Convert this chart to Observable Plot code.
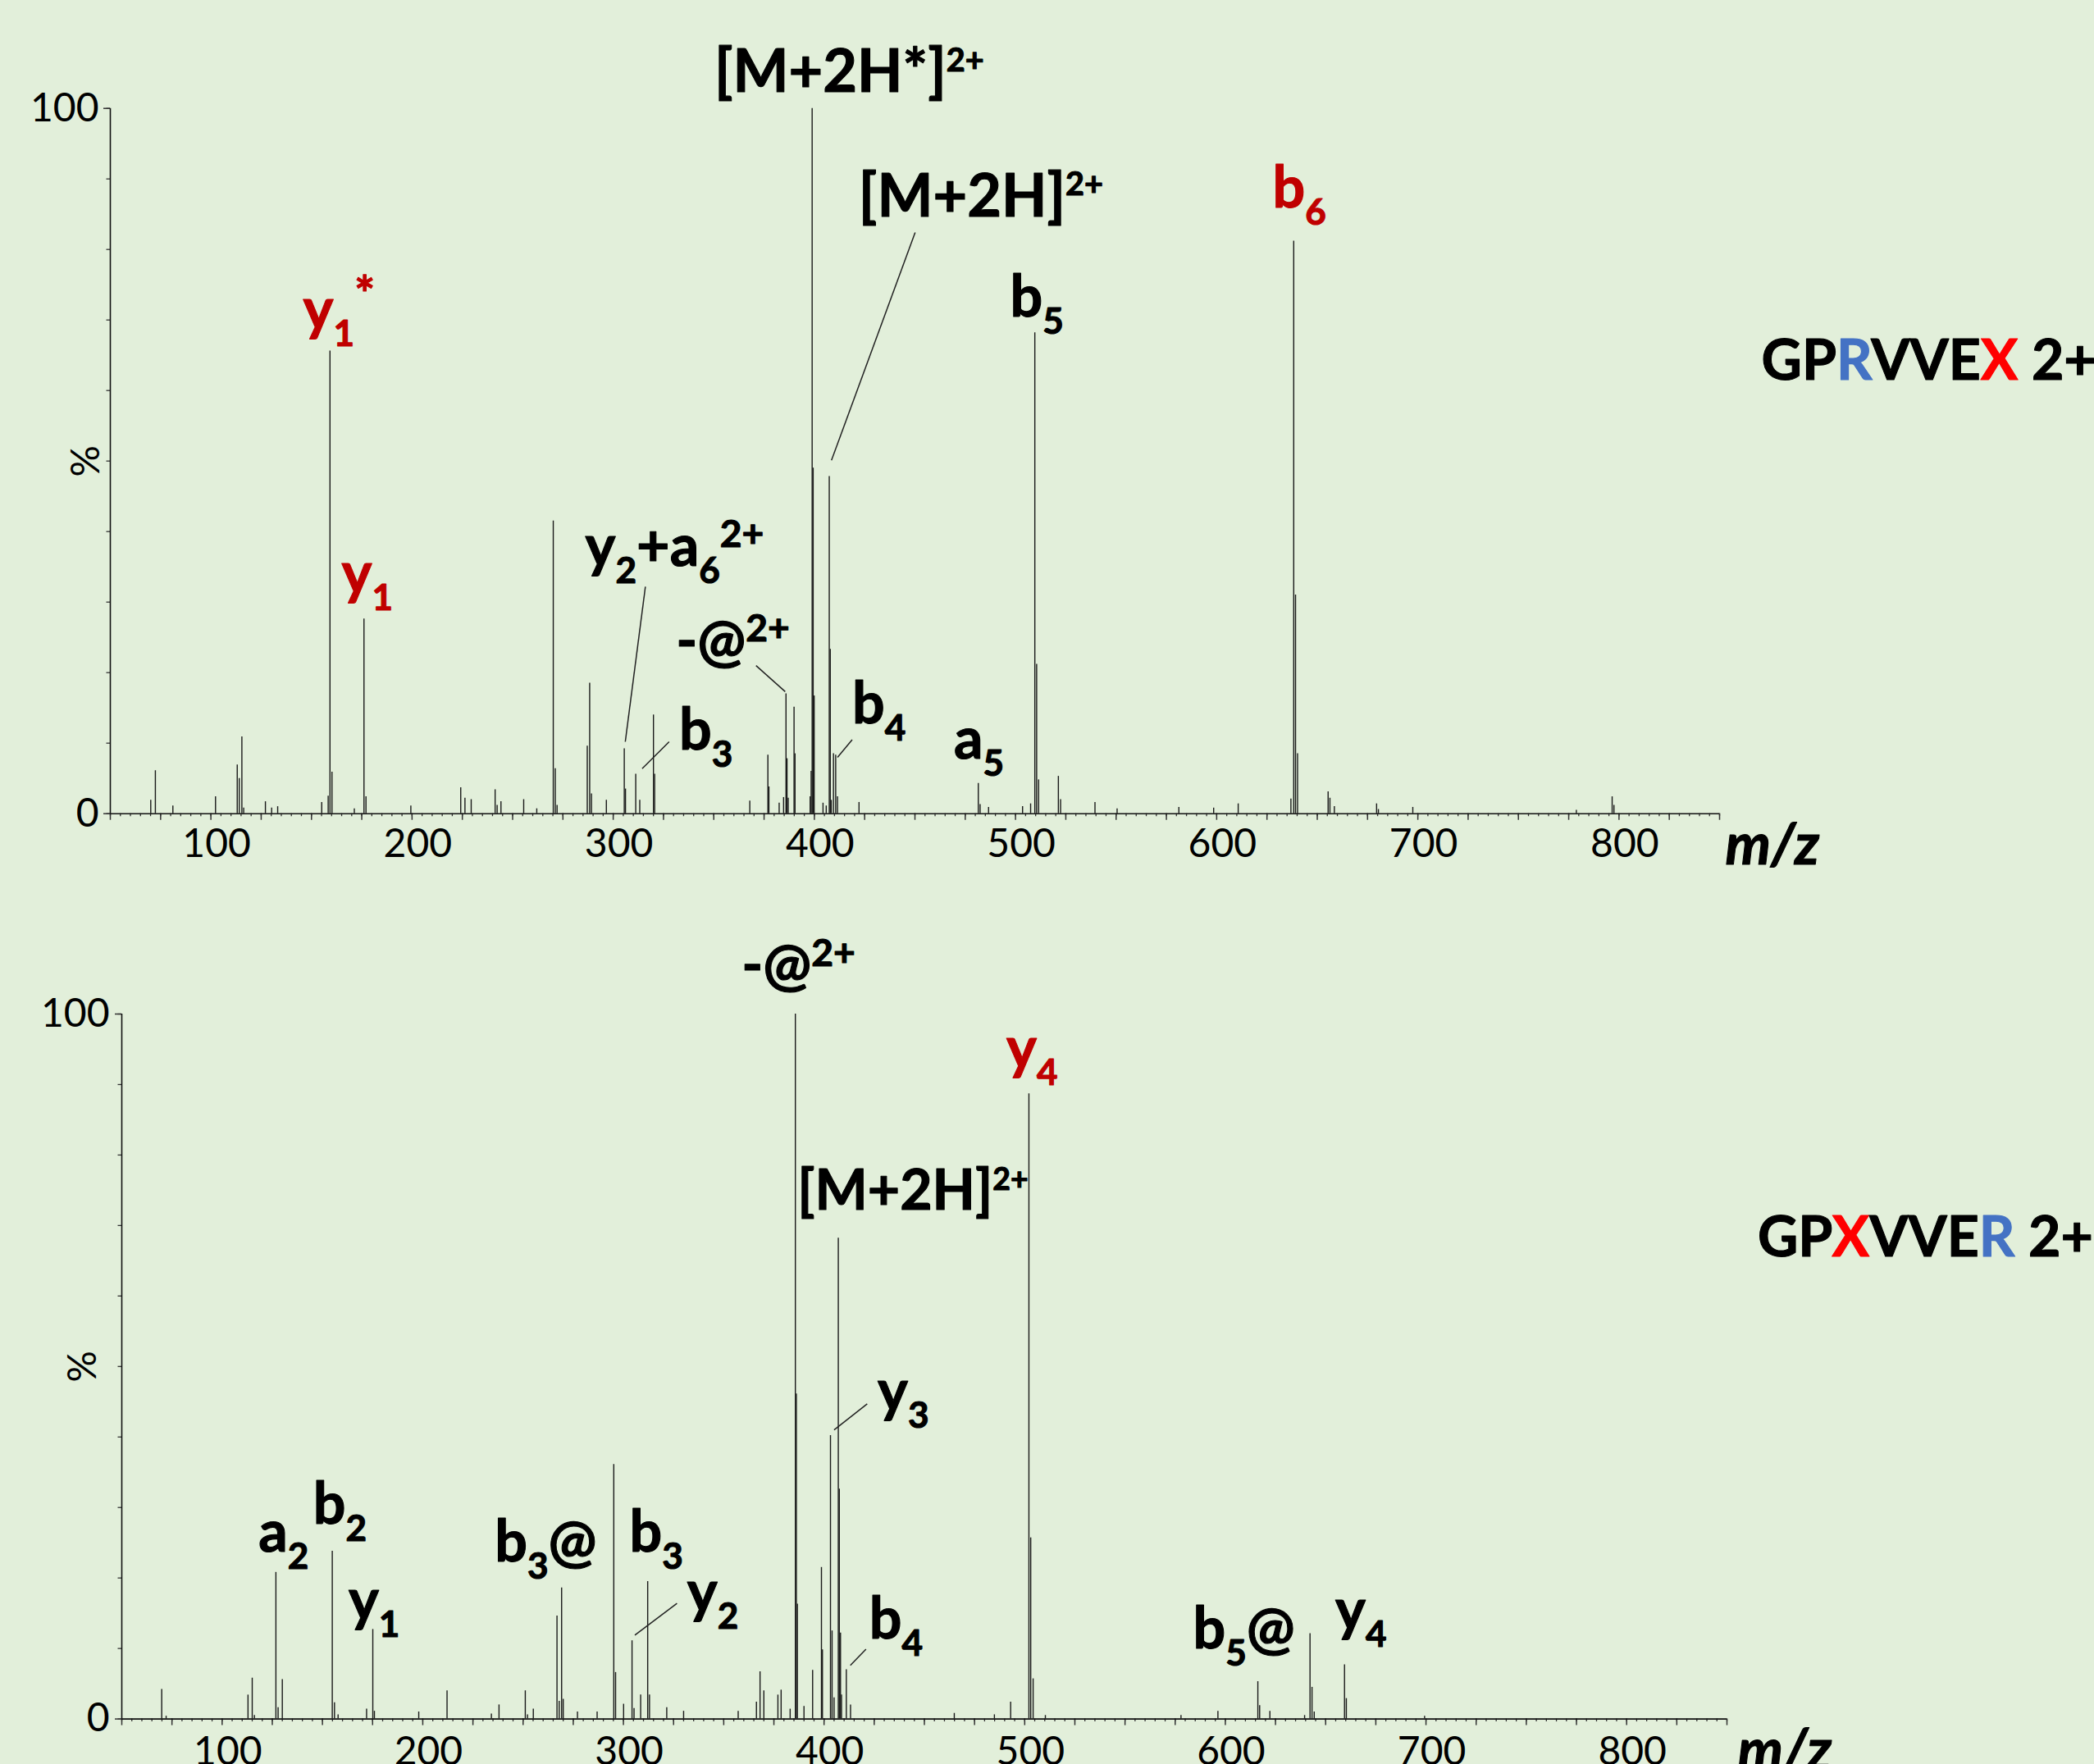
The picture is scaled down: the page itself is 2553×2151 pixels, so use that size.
<!DOCTYPE html>
<html>
<head>
<meta charset="utf-8">
<script src="https://cdn.jsdelivr.net/npm/d3@7"></script>
<script src="https://cdn.jsdelivr.net/npm/@observablehq/plot@0.6"></script>
<style>
  html, body { margin: 0; padding: 0; background: #E2EFDA; overflow: hidden; }
  #chart svg { display: block; }
</style>
</head>
<body>
<div id="chart"></div>
<script>
// ---------- DATA ----------
// Top spectrum: GPRVVEX 2+
const topMz = [70.1,72.4,81.1,102.3,113.1,114.1,115.4,116.3,127.1,130.2,133.2,155.1,158.3,159.2,160.2,171.3,176.1,177.1,199.4,
  224.2,226.3,229.4,241.3,242.3,244.2,255.5,262.0,270.2,271.2,272.1,287.1,288.3,289.2,296.6,305.5,306.1,311.2,313.2,320.0,320.6,
  367.9,376.9,377.4,382.5,384.7,385.9,386.4,387.0,389.9,390.4,397.9,398.4,398.9,399.4,399.9,404.3,405.9,407.4,407.9,408.4,409.5,410.6,411.5,422.2,
  481.5,482.4,486.6,503.5,507.5,509.6,510.5,511.5,521.3,522.4,539.5,550.5,581.2,598.5,610.7,636.9,638.3,639.2,640.2,
  655.4,656.3,658.5,679.5,680.4,697.5,778.8,796.6,797.5];
const topPct = [1.9,6.1,1.1,2.4,6.9,5.0,10.9,0.8,1.7,0.8,1.0,1.6,2.5,65.6,5.9,0.7,27.6,2.4,1.1,
  3.7,2.2,2.0,3.4,1.2,1.7,2.0,0.7,41.5,6.4,1.2,9.6,18.5,2.8,1.9,9.2,3.5,5.6,1.9,14.0,5.6,
  1.8,8.3,3.8,1.5,2.3,17.0,7.8,2.2,15.1,8.5,2.4,6.0,100,49.0,16.7,1.5,1.1,47.8,23.3,1.9,8.5,8.3,2.4,1.6,
  4.3,1.3,0.9,1.0,1.4,68.2,21.2,4.8,5.3,2.0,1.6,0.7,0.9,0.8,1.4,2.1,81.2,31.0,8.5,
  3.1,2.2,1.0,1.4,0.6,0.9,0.5,2.4,1.2];

// Bottom spectrum: GPXVVER 2+
const botMz = [69.9,72.1,112.9,115.0,116.1,126.8,127.9,130.0,154.9,156.0,157.8,172.0,175.1,175.9,198.0,212.1,234.2,238.0,
  251.1,252.2,255.1,266.9,268.0,269.2,270.0,277.1,286.9,295.2,296.1,300.1,304.3,305.3,308.6,312.1,313.0,321.6,330.0,357.2,
  366.3,368.1,370.0,377.0,378.6,383.1,385.7,386.2,386.7,390.0,394.3,398.7,399.2,403.2,404.0,405.0,407.1,407.6,408.2,408.7,411.1,413.2,
  464.9,484.9,493.0,502.1,503.0,504.2,510.3,577.9,596.3,616.2,617.1,622.2,639.5,642.2,643.2,644.3,659.4,660.3,699.3];
const botPct = [4.2,0.4,3.4,5.8,0.5,20.8,1.6,5.6,23.8,2.3,0.6,1.4,12.7,1.1,1.0,4.0,0.7,2.0,
  4.0,0.6,1.4,14.6,2.5,18.6,2.8,1.0,1.0,36.1,6.6,2.1,11.1,1.5,3.4,19.5,3.4,1.6,1.1,1.1,
  2.4,6.7,4.0,3.4,4.1,1.4,100,46.1,16.3,1.8,6.9,21.5,9.8,40.2,12.5,3.0,68.2,32.6,12.2,3.4,7.0,2.0,
  0.8,0.6,2.4,88.7,25.7,5.7,0.5,0.5,1.1,5.3,1.9,1.1,0.5,12.1,4.5,1.0,7.7,2.9,0.4];

// Axis tick values
const xLabelTicks = [100, 200, 300, 400, 500, 600, 700, 800];
const xMajorTicks = d3.range(50, 851, 25);
const xMinorTicks = d3.range(50, 851, 5);
const yLabelTicks = [0, 100];
const yMinorTicks = d3.range(0, 101, 10);

// Peak annotations (anchor = left edge / baseline, in m/z and %)
const topLabels = [
  {mz: 350.3, pct: 102.3, text: "[M+2H*]^{2+}", red: false},
  {mz: 422.0, pct: 84.7,  text: "[M+2H]^{2+}",  red: false},
  {mz: 145.8, pct: 68.8,  text: "y_{1}^{*}",    red: true},
  {mz: 165.0, pct: 31.3,  text: "y_{1}",        red: true},
  {mz: 497.3, pct: 70.5,  text: "b_{5}",        red: false},
  {mz: 627.8, pct: 86.0,  text: "b_{6}",        red: true},
  {mz: 286.1, pct: 35.1,  text: "y_{2}+a_{6}^{2+}", red: false},
  {mz: 331.2, pct: 21.7,  text: "-@^{2+}",      red: false},
  {mz: 332.8, pct: 9.1,   text: "b_{3}",        red: false},
  {mz: 418.8, pct: 12.8,  text: "b_{4}",        red: false},
  {mz: 469.4, pct: 7.8,   text: "a_{5}",        red: false}
];
const botLabels = [
  {mz: 358.9, pct: 104.1, text: "-@^{2+}",      red: false},
  {mz: 490.9, pct: 92.4,  text: "y_{4}",        red: true},
  {mz: 386.7, pct: 72.2,  text: "[M+2H]^{2+}",  red: false},
  {mz: 426.7, pct: 43.7,  text: "y_{3}",        red: false},
  {mz: 118.2, pct: 23.8,  text: "a_{2}",        red: false},
  {mz: 145.4, pct: 27.7,  text: "b_{2}",        red: false},
  {mz: 163.0, pct: 14.1,  text: "y_{1}",        red: false},
  {mz: 235.9, pct: 22.3,  text: "b_{3}@",       red: false},
  {mz: 303.0, pct: 23.8,  text: "b_{3}",        red: false},
  {mz: 331.8, pct: 15.2,  text: "y_{2}",        red: false},
  {mz: 422.5, pct: 11.4,  text: "b_{4}",        red: false},
  {mz: 583.9, pct: 10.0,  text: "b_{5}@",       red: false},
  {mz: 654.8, pct: 12.7,  text: "y_{4}",        red: false}
];
// Leader lines (m/z, %)
const topLeaders = [
  {x1: 450.1, y1: 82.4, x2: 408.5, y2: 50.1},
  {x1: 316.0, y1: 32.2, x2: 306.0, y2: 10.2},
  {x1: 371.0, y1: 21.0, x2: 385.5, y2: 17.3},
  {x1: 327.8, y1: 10.2, x2: 314.4, y2: 6.4},
  {x1: 418.8, y1: 10.5, x2: 411.5, y2: 8.0}
];
const botLeaders = [
  {x1: 421.5, y1: 44.7, x2: 405.0, y2: 41.0},
  {x1: 326.7, y1: 16.4, x2: 305.7, y2: 11.9},
  {x1: 420.9, y1: 9.9,  x2: 413.1, y2: 7.6}
];
// Peptide labels: {b:..} blue residue, {r:..} red residue
const topPeptide = [{mz: 870.8, pct: 61.5, text: "GP{b:R}VVE{r:X} 2+"}];
const botPeptide = [{mz: 865.3, pct: 65.6, text: "GP{r:X}VVE{b:R} 2+"}];

// ---------- RENDER ----------
const FONT = "Lato, 'Open Sans', sans-serif";
const BG = "#E2EFDA";
const DARKRED = "#C00000";
const INK = "#111";

function panel(opts) {
  const peaks = opts.mz.map((m, i) => ({mz: m, pct: opts.pct[i]}));
  const sizeOf = d => (d.text.startsWith("[") ? opts.precSize : 70);
  const labelStyle = (fill) => ({x: "mz", y: "pct", text: "text", textAnchor: "start", lineAnchor: "bottom",
    fontSize: sizeOf, fontWeight: "bold", fontFamily: FONT, fill, stroke: fill, strokeWidth: 1.1});
  return Plot.plot({
    width: 2553,
    height: opts.height,
    marginLeft: opts.left,
    marginRight: 2553 - opts.right,
    marginTop: opts.top,
    marginBottom: opts.height - opts.bottom,
    style: {background: BG, fontFamily: FONT, overflow: "hidden"},
    x: {domain: [50, 850], axis: null},
    y: {domain: [0, 100], axis: null},
    marks: [
      Plot.axisX(xMinorTicks, {tickSize: 3.5, tickFormat: () => "", stroke: "#333", strokeWidth: 1.3, label: null}),
      Plot.axisX(xMajorTicks, {tickSize: 8, tickFormat: () => "", stroke: "#333", strokeWidth: 1.5, label: null}),
      Plot.axisY(yMinorTicks, {tickSize: 4.5, tickFormat: () => "", stroke: "#333", strokeWidth: 1.3, label: null}),
      Plot.axisY(yLabelTicks, {tickSize: 8, tickPadding: opts.yPad, fontSize: 48, fontFamily: FONT, fill: "#000", stroke: "#333", strokeWidth: 1.5, label: null}),
      Plot.text(xLabelTicks, {x: d => d, frameAnchor: "bottom", dy: opts.xLabDy, dx: 7, lineAnchor: "bottom",
        text: d => String(d), fontSize: 48, fontFamily: FONT, fill: "#000"}),
      Plot.ruleY([0], {stroke: INK, strokeWidth: 1.6}),
      Plot.ruleX([50], {y1: 0, y2: 100, stroke: INK, strokeWidth: 1.6}),
      Plot.text([50], {x: () => 50, y: () => 50, text: () => "%", rotate: -90, dx: opts.pctDx, fontSize: 48, fontFamily: FONT, fill: "#000"}),
      Plot.text(["m/z"], {x: () => 850, frameAnchor: "bottom", dx: opts.mzDx, dy: opts.mzDy, text: d => d, textAnchor: "start", lineAnchor: "bottom",
        fontSize: 70, fontWeight: "bold", fontStyle: "italic", fontFamily: FONT, fill: "#000", stroke: "#000", strokeWidth: 1.1}),
      Plot.ruleX(peaks, {x: "mz", y1: 0, y2: "pct", stroke: "#1a1a1a", strokeWidth: 1.4}),
      Plot.link(opts.leaders, {x1: "x1", y1: "y1", x2: "x2", y2: "y2", stroke: "#222", strokeWidth: 1.5}),
      Plot.text(opts.labels.filter(d => !d.red), labelStyle("#000")),
      Plot.text(opts.labels.filter(d => d.red), labelStyle(DARKRED)),
      Plot.text(opts.peptide, {x: "mz", y: "pct", text: "text", textAnchor: "start", lineAnchor: "bottom",
        fontSize: 68, fontWeight: "bold", fontFamily: FONT, fill: "#000", stroke: "#000", strokeWidth: 1.1})
    ]
  });
}

const SVGNS = "http://www.w3.org/2000/svg";
function richify(svg) {
  svg.querySelectorAll("text").forEach(t => {
    const src = t.textContent;
    if (/\{[br]:/.test(src)) {
      // peptide label with coloured residues
      while (t.firstChild) t.removeChild(t.firstChild);
      for (const m of src.matchAll(/\{([br]):([^}]*)\}|([^{]+)/g)) {
        const ts = document.createElementNS(SVGNS, "tspan");
        if (m[1]) {
          const c = m[1] === "b" ? "#4472C4" : "#FF0000";
          ts.textContent = m[2]; ts.setAttribute("fill", c); ts.setAttribute("stroke", c);
        } else ts.textContent = m[3];
        t.appendChild(ts);
      }
      return;
    }
    if (!/[_^]\{/.test(src)) return;
    let sizeAttr = t.getAttribute("font-size");
    if (!sizeAttr && t.parentNode) sizeAttr = t.parentNode.getAttribute("font-size");
    const size = parseFloat(sizeAttr || 70);
    const prec = src.startsWith("[");
    const subSize = 0.63 * size, subShift = 0.30 * size;
    while (t.firstChild) t.removeChild(t.firstChild);
    let off = 0;
    for (const m of src.matchAll(/([_^])\{([^}]*)\}|([^_^]+)/g)) {
      const ts = document.createElementNS(SVGNS, "tspan");
      let target = 0, fs = null, txt;
      if (m[1]) {
        txt = m[2];
        if (m[1] === "_") { target = subShift; fs = subSize; }
        else if (txt === "*") { target = -0.30 * size; fs = 0.85 * size; }
        else { target = -(prec ? 0.36 : 0.33) * size; fs = (prec ? 0.55 : 0.66) * size; }
      } else txt = m[3];
      const dy = target - off; off = target;
      if (dy) ts.setAttribute("dy", dy);
      if (fs) ts.setAttribute("font-size", fs);
      ts.textContent = txt;
      t.appendChild(ts);
    }
  });
  return svg;
}

const topChart = panel({
  mz: topMz, pct: topPct, labels: topLabels, leaders: topLeaders, peptide: topPeptide,
  height: 1075, left: 134, right: 2096, top: 131.7, bottom: 991.7,
  yPad: 6, xLabDy: 53, pctDx: -29, mzDx: 7, mzDy: 62, precSize: 72
});
const bottomChart = panel({
  mz: botMz, pct: botPct, labels: botLabels, leaders: botLeaders, peptide: botPeptide,
  height: 1076, left: 148, right: 2105, top: 1236 - 1075, bottom: 2095.6 - 1075,
  yPad: 7, xLabDy: 56, pctDx: -46.5, mzDx: 13, mzDy: 62, precSize: 68
});
document.getElementById("chart").append(richify(topChart), richify(bottomChart));
</script>
</body>
</html>
